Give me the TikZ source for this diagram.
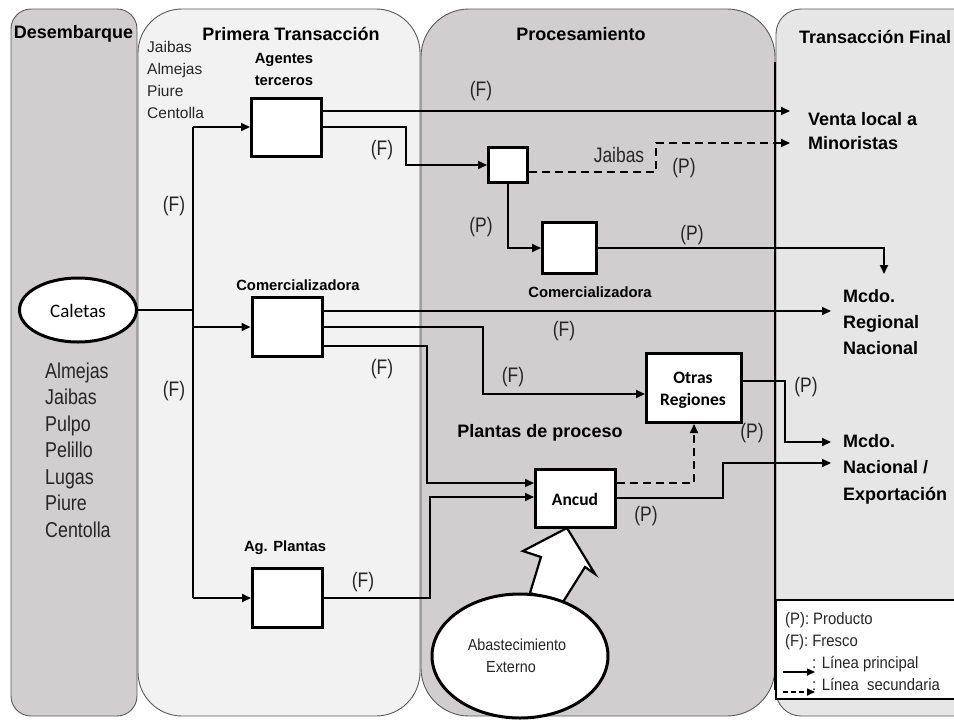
\documentclass[tikz,border=0pt]{standalone}
\usepackage{fontspec}
\setmainfont{Liberation Sans}
\newfontfamily\narrowf{Liberation Sans}[FakeStretch=0.83]
\newfontfamily\semif{Liberation Sans}[FakeStretch=0.9]
\newfontfamily\calibf{Carlito}
\usetikzlibrary{arrows.meta,shapes.geometric}
\definecolor{laneA}{HTML}{D0CECE}
\definecolor{laneB}{HTML}{F2F2F2}
\definecolor{laneD}{HTML}{E6E6E6}
\definecolor{laneline}{HTML}{5A5A5A}
\definecolor{txt}{HTML}{262626}
\begin{document}
\begin{tikzpicture}[x=1pt,y=-1pt,
  lane/.style={draw=laneline, line width=0.9pt},
  box/.style={draw=black, line width=3pt, fill=white, inner sep=0pt},
  ell/.style={ellipse, draw=black, line width=3pt, fill=white, inner sep=0pt},
  conn/.style={line width=1.8pt},
  arr/.style={conn, -{Triangle[length=9pt,width=8pt]}},
  darr/.style={arr, dash pattern=on 8pt off 5pt},
  hdr/.style={font=\bfseries\fontsize{18}{21}\selectfont, inner sep=0pt},
  fin/.style={font=\bfseries\fontsize{18}{21}\selectfont, inner sep=0pt, anchor=base west},
  sml/.style={font=\bfseries\fontsize{14.8}{18}\selectfont, inner sep=0pt, anchor=base},
  lbl/.style={font=\narrowf\fontsize{21}{24}\selectfont, text=txt, inner sep=0pt},
  lst/.style={font=\narrowf\fontsize{21.5}{24}\selectfont, text=txt, inner sep=0pt, anchor=base west},
  toplist/.style={font=\fontsize{15.5}{20}\selectfont, text=txt, inner sep=0pt, anchor=base west},
  leg/.style={font=\semif\fontsize{16.5}{20}\selectfont, text=txt, inner sep=0pt, anchor=base west},
  calf/.style={font=\calibf\fontsize{19}{22}\selectfont, inner sep=0pt, anchor=base},
  calb/.style={font=\calibf\bfseries\fontsize{17.5}{22}\selectfont, inner sep=0pt, anchor=base},
  absf/.style={font=\semif\fontsize{16}{20}\selectfont, text=txt, inner sep=0pt, anchor=base}
]
\useasboundingbox (0,0) rectangle (954,721);
\fill[white] (0,0) rectangle (954,721);
\begin{scope}
\clip (0,0) rectangle (954,721);
% lanes
\draw[lane, fill=laneA, rounded corners=20pt] (11,9) rectangle (137,716);
\draw[lane, fill=laneB, rounded corners=44pt] (138,9) rectangle (420,716);
\draw[lane, fill=laneA, rounded corners=48pt] (421,9) rectangle (775,716);
\draw[lane, fill=laneD, rounded corners=25pt] (776,9) rectangle (1000,716);
\draw[line width=1.8pt] (775,62) -- (775,690);
% legend
\node[draw=black, line width=1.8pt, fill=white, minimum width=230pt, minimum height=99pt, anchor=north west, inner sep=0pt] (legend) at (775,599) {};
\end{scope}

% headers
\node[hdr, anchor=base] (hDes) at (73.5,38) {Desembarque};
\node[hdr, anchor=base] (hPri) at (291,40) {Primera Transacción};
\node[hdr, anchor=base] (hPro) at (581,40) {Procesamiento};
\node[hdr, anchor=base west] (hFin) at (799,43) {Transacción Final};

% left lane list
\foreach \t [count=\i] in {Almejas,Jaibas,Pulpo,Pelillo,Lugas,Piure,Centolla}
  \node[lst] (lst\i) at (45,{378+26.5*(\i-1)}) {\t};

% top list
\foreach \t [count=\i] in {Jaibas,Almejas,Piure,Centolla}
  \node[toplist] (tl\i) at (147,{52+22*(\i-1)}) {\t};

% Caletas
\node[ell, minimum width=117pt, minimum height=64pt] (cal) at (78,310) {};
\node[calf] (calT) at (78,317) {Caletas};

% boxes
\node[box, minimum width=70pt, minimum height=58pt] (agt) at (286.5,127) {};
\node[box, minimum width=70pt, minimum height=59pt] (com1) at (287,327) {};
\node[box, minimum width=70pt, minimum height=59pt] (agp) at (287.5,598) {};
\node[box, minimum width=39pt, minimum height=35pt] (sb) at (508,165) {};
\node[box, minimum width=54pt, minimum height=51pt] (com2) at (569.5,248) {};
\node[box, minimum width=95pt, minimum height=69pt] (otr) at (694,388) {};

% box labels
\node[sml] (agtL1) at (284,63) {Agentes};
\node[sml] (agtL2) at (284,85) {terceros};
\node[sml] (com1L) at (298,290) {Comercializadora};
\node[sml] (com2L) at (590,297) {Comercializadora};
\node[sml] (agpL) at (285,551) {Ag. Plantas};
\node[hdr, anchor=base] (plL) at (540,437) {Plantas de proceso};
\node[calb] (otrL1) at (693,383) {Otras};
\node[calb] (otrL2) at (693,405) {Regiones};

% big supply arrow, ellipse, Ancud
\draw[line width=2.2pt, fill=white, line join=miter] (567,528) -- (595,574) -- (585,567) -- (563,602) -- (530,593) -- (541,557) -- (523,551) -- cycle;
\node[ell, minimum width=176pt, minimum height=124pt] (abs) at (520,656) {};
\node[absf] (absL1) at (517,650) {Abastecimiento};
\node[absf] (absL2) at (511,672) {Externo};
\node[box, minimum width=80pt, minimum height=58pt] (anc) at (575.5,498.5) {};
\node[calb] (ancL) at (575,505) {Ancud};

% final lane texts
\node[fin] (ven1) at (808,125) {Venta local a};
\node[fin] (ven2) at (808,149) {Minoristas};
\node[fin] (reg1) at (843,302) {Mcdo.};
\node[fin] (reg2) at (843,328) {Regional};
\node[fin] (reg3) at (843,354) {Nacional};
\node[fin] (nac1) at (843,447) {Mcdo.};
\node[fin] (nac2) at (843,473) {Nacional /};
\node[fin] (nac3) at (843,500) {Exportación};

% coordinates
\coordinate (jc) at (193,310);
\coordinate (tA) at (193,127);
\coordinate (tB) at (193,598);
\coordinate (inVenta) at (790,111);
\coordinate (inMin) at (790,143);
\coordinate (inReg) at (884,274);
\coordinate (inReg2) at (831,311);
\coordinate (inNac1) at (831,442);
\coordinate (inNac2) at (831,463);

% connectors
\draw[conn] (cal.east) -- (jc);
\draw[conn] (tA) -- (tB);
\draw[arr] (tA) -- (agt.west);
\draw[arr] (jc |- 0,327) -- (com1.west);
\draw[arr] (tB) -- (agp.west);
\draw[arr] (agt.east |- 0,111) -- (inVenta);
\draw[arr] (agt.east) -- ++(83,0) |- (sb.west);
\draw[darr] (sb.east |- 0,172) -- (656,172) -- (656,143) -- (inMin);
\draw[arr] (sb.south) |- (com2.west);
\draw[arr] (com2.east) -| (inReg);
\draw[arr] (com1.east |- 0,311) -- (inReg2);
\draw[arr] (com1.east) -| (483,394) -- (otr.west |- 0,394);
\draw[arr] (com1.east |- 0,346) -| (427,483) -- (anc.west |- 0,483);
\draw[arr] (agp.east) -| (430,497) -- (anc.west |- 0,497);
\draw[darr] (anc.east |- 0,483) -| (otr.south);
\draw[arr] (anc.east |- 0,498) -| (723,463) -- (inNac2);
\draw[arr] (otr.east |- 0,381) -| (785,442) -- (inNac1);

% flow labels
\node[lbl] (f1) at (174,206) {(F)};
\node[lbl] (f2) at (174,391) {(F)};
\node[lbl] (f3) at (481,91) {(F)};
\node[lbl] (f4) at (382,150) {(F)};
\node[lbl] (p1) at (481,227) {(P)};
\node[lbl] (jai) at (619,155) {Jaibas};
\node[lbl] (p2) at (684,168) {(P)};
\node[lbl] (p3) at (692,235) {(P)};
\node[lbl] (f5) at (564,331) {(F)};
\node[lbl] (f6) at (382,369) {(F)};
\node[lbl] (f7) at (513,377) {(F)};
\node[lbl] (p4) at (806,387) {(P)};
\node[lbl] (p5) at (752,433) {(P)};
\node[lbl] (p6) at (646,516) {(P)};
\node[lbl] (f8) at (363,582) {(F)};

% legend content
\node[leg] (lg1) at (785,624) {(P): Producto};
\node[leg] (lg2) at (785,646) {(F): Fresco};
\node[leg] (lg3) at (812,668) {: Línea principal};
\node[leg] (lg4) at (812,690) {: Línea\ \ secundaria};
\coordinate (la1) at (783,672);
\coordinate (la2) at (815,672);
\coordinate (lb1) at (783,692);
\coordinate (lb2) at (815,692);
\draw[line width=1.6pt, -{Triangle[length=8pt,width=7pt]}] (la1) -- (la2);
\draw[line width=1.6pt, dash pattern=on 5pt off 3pt, -{Triangle[length=8pt,width=7pt]}] (lb1) -- (lb2);
\end{tikzpicture}
\end{document}
